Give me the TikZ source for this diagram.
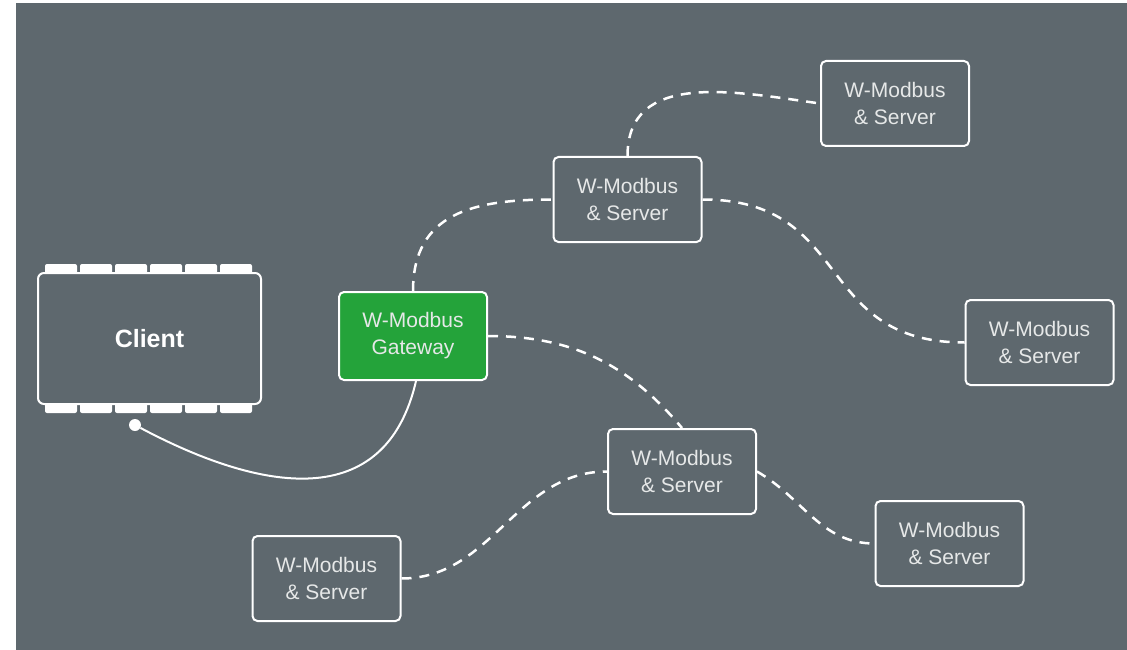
\documentclass[tikz,border=0pt]{standalone}
\usepackage{fontspec}
\setmainfont{Liberation Sans}
\usepackage{tikz}
\definecolor{bggray}{RGB}{94,104,110}
\definecolor{gwgreen}{RGB}{36,163,58}
\definecolor{txtgray}{RGB}{230,232,232}
\tikzset{>=latex}
\tikzset{
    box/.style={draw=white, line width=2pt, rounded corners=5pt, minimum width=148pt, minimum height=85pt, align=center, text=txtgray, font=\fontsize{21}{27}\selectfont},
    server/.style={box},
    gateway/.style={box, fill=gwgreen, minimum height=88pt},
    link/.style={white, line width=2.5pt, dash pattern=on 10pt off 8pt},
    cable/.style={white, line width=2pt},
    tab/.style={fill=white, rounded corners=2pt}
}

\begin{document}
\begin{tikzpicture}[x=1pt, y=1pt]
    \useasboundingbox (0, 0) rectangle (1127, -650);
    \fill[white] (0, 0) rectangle (1127, -650);
    \fill[bggray] (16, -3) rectangle (1127, -650);
    % client with its connector tabs
    \foreach \x in {45, 80, ..., 220} {
        \fill[tab] (\x, -264) rectangle ++(32, -11);
        \fill[tab] (\x, -402) rectangle ++(32, -11);
    }
    \node[box, fill=bggray, minimum width=223pt, minimum height=131pt, rounded corners=6pt, text=white, font=\fontsize{25}{30}\selectfont\bfseries] (client) at (149.5, -338.5) {Client};
    \node[circle, fill=white, inner sep=0pt, minimum size=12pt] (plug) at (135, -425) {};
    % gateway and servers
    \node[gateway] (gw) at (413, -336) {W-Modbus\\Gateway};
    \node[server] (s1) at (627.5, -199.5) {W-Modbus\\\& Server};
    \node[server] (s2) at (895, -103.5) {W-Modbus\\\& Server};
    \node[server] (s3) at (1039.5, -342.5) {W-Modbus\\\& Server};
    \node[server] (s4) at (682, -471.5) {W-Modbus\\\& Server};
    \node[server] (s5) at (949.5, -543.5) {W-Modbus\\\& Server};
    \node[server] (s6) at (326.5, -578.5) {W-Modbus\\\& Server};
    % links
    \draw[cable] (plug) to[out=-28, in=-103, looseness=1.25] ([xshift=3pt]gw.south);
    \draw[link] (gw.north) to[out=90, in=180, looseness=1.2] (s1.west);
    \draw[link] (s1.north) to[out=90, in=172, looseness=1.1] (s2.west);
    \draw[link] (s1.east) to[out=0, in=180, looseness=1.3] (s3.west);
    \draw[link] (gw.east) to[out=0, in=130] (s4.north);
    \draw[link] (s6.east) to[out=0, in=180] (s4.west);
    \draw[link] (s4.east) to[out=-30, in=180] (s5.west);
\end{tikzpicture}
\end{document}
